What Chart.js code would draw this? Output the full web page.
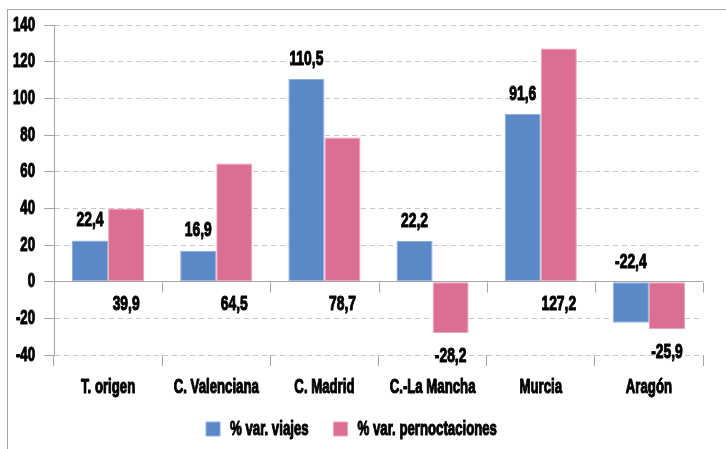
<!DOCTYPE html>
<html>
<head>
<meta charset="utf-8">
<script src="https://cdn.jsdelivr.net/npm/chart.js@4.4.1/dist/chart.umd.min.js"></script>
<style>
  html, body { margin: 0; padding: 0; background: #fff; }
  #wrap { position: relative; width: 726px; height: 449px; }
</style>
</head>
<body>
<div id="wrap"><canvas id="myChart" width="726" height="449"></canvas></div>
<script>
// datos del gráfico
const categorias = ['T. origen', 'C. Valenciana', 'C. Madrid', 'C.-La Mancha', 'Murcia', 'Aragón'];
const viajes = [22.4, 16.9, 110.5, 22.2, 91.6, -22.4];
const pernoctaciones = [39.9, 64.5, 78.7, -28.2, 127.2, -25.9];
const nombresSeries = ['% var. viajes', '% var. pernoctaciones'];
const ejeY = { min: -40, max: 140, paso: 20 };

const fuente = "'Liberation Sans', Arial, sans-serif";
const gris = '#a6a6a6';
const estrecho = 0.66; // la tipografía original es muy condensada

// número con coma decimal
function fmt(v) {
    return v.toFixed(1).replace('.', ',');
}

const ctx = document.getElementById('myChart').getContext('2d');

// texto comprimido horizontalmente y algo más grueso (no hay fuentes condensadas instaladas)
const fillOrig = ctx.fillText.bind(ctx);
const strokeOrig = ctx.strokeText.bind(ctx);
const measureOrig = ctx.measureText.bind(ctx);
ctx.fillText = function(t, x, y, maxW) {
    ctx.save();
    ctx.translate(x, y);
    ctx.scale(estrecho, 1);
    ctx.strokeStyle = ctx.fillStyle;
    ctx.lineWidth = 1.1;
    ctx.lineJoin = 'round';
    ctx.setLineDash([]);
    fillOrig(t, 0, 0);
    strokeOrig(t, 0, 0);
    ctx.restore();
};
ctx.measureText = function(t) {
    const m = measureOrig(t);
    return {
        width: m.width * estrecho,
        actualBoundingBoxAscent: m.actualBoundingBoxAscent,
        actualBoundingBoxDescent: m.actualBoundingBoxDescent,
        actualBoundingBoxLeft: m.actualBoundingBoxLeft * estrecho,
        actualBoundingBoxRight: m.actualBoundingBoxRight * estrecho
    };
};

// marco exterior y marcas del eje x sobre la línea de cero
const marco = {
    id: 'marco',
    afterLayout(chart) {
        // que no se recorten los descendentes de las categorías
        chart.scales.x.bottom += 12;
    },
    beforeDraw(chart) {
        const c = chart.ctx;
        c.save();
        c.strokeStyle = gris;
        c.lineWidth = 1;
        c.strokeRect(7.5, 9.5, 900, 900);
        c.restore();
    },
    afterDraw(chart) {
        const c = chart.ctx;
        const x = chart.scales.x;
        const y0 = Math.round(chart.scales.y.getPixelForValue(0)) + 0.5;
        const n = categorias.length;
        c.save();
        c.strokeStyle = gris;
        c.lineWidth = 1;
        for (let i = 0; i <= n; i++) {
            const px = Math.round(x.left + (x.right - x.left) * i / n) + 0.5;
            c.beginPath();
            c.moveTo(px, y0);
            c.lineTo(px, y0 + 10);
            c.stroke();
        }
        c.restore();
    }
};

// etiquetas de valores
const etiquetas = {
    id: 'etiquetas',
    afterDatasetsDraw(chart) {
        const c = chart.ctx;
        c.save();
        c.font = 'bold 21px ' + fuente;
        c.fillStyle = '#000';
        c.textAlign = 'center';
        c.textBaseline = 'middle';
        chart.data.datasets.forEach((ds, d) => {
            chart.getDatasetMeta(d).data.forEach((bar, i) => {
                const arriba = Math.min(bar.y, bar.base);
                const abajo = Math.max(bar.y, bar.base);
                const py = d === 0 ? arriba - 20 : abajo + 23;
                c.fillText(fmt(ds.data[i]), bar.x, py);
            });
        });
        c.restore();
    }
};

const myChart = new Chart(ctx, {
    type: 'bar',
    data: {
        labels: categorias,
        datasets: [{
            label: nombresSeries[0],
            data: viajes,
            backgroundColor: '#5b88c6',
            borderColor: '#8eb0dd',
            borderWidth: 1,
            borderSkipped: false
        }, {
            label: nombresSeries[1],
            data: pernoctaciones,
            backgroundColor: '#dc6e92',
            borderColor: '#eca3ba',
            borderWidth: 1,
            borderSkipped: false
        }]
    },
    options: {
        responsive: false,
        animation: false,
        datasets: {
            bar: { categoryPercentage: 0.667, barPercentage: 1.0 }
        },
        layout: {
            padding: { top: 25, right: 23, bottom: 0, left: 0 }
        },
        plugins: {
            tooltip: { enabled: false },
            legend: {
                position: 'bottom',
                labels: {
                    boxWidth: 14,
                    boxHeight: 14,
                    padding: 25,
                    color: '#000',
                    font: { family: fuente, size: 20, weight: 'bold' }
                }
            }
        },
        scales: {
            x: {
                afterFit(scale) { scale.height = 39; },
                grid: {
                    offset: true,
                    drawOnChartArea: false,
                    tickLength: 11,
                    color: gris
                },
                border: { display: false },
                ticks: {
                    color: '#000',
                    padding: 9,
                    maxRotation: 0,
                    autoSkip: false,
                    font: { family: fuente, size: 20, weight: 'bold' }
                }
            },
            y: {
                min: ejeY.min,
                max: ejeY.max,
                afterFit(scale) { scale.width = 54; },
                ticks: {
                    stepSize: ejeY.paso,
                    color: '#000',
                    padding: 9,
                    font: { family: fuente, size: 20, weight: 'bold' }
                },
                grid: {
                    tickLength: 10,
                    tickColor: gris,
                    tickBorderDash: [],
                    color: (c) => (c.tick && c.tick.value === 0) ? gris : '#c8c8c8'
                },
                border: {
                    color: gris,
                    dash: (c) => (c.tick && c.tick.value !== 0) ? [5, 4] : []
                }
            }
        }
    },
    plugins: [marco, etiquetas]
});
</script>
</body>
</html>
